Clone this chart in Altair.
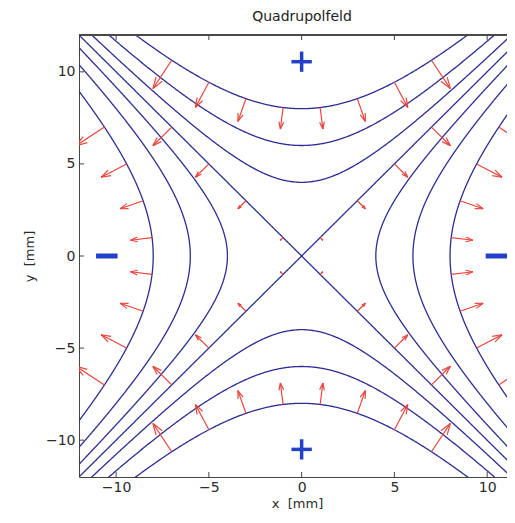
import numpy as np
import pandas as pd
import altair as alt

# ---- data ----
levels = [-64, -36, -16, 0, 16, 36, 64]          # contour levels of x^2 - y^2
arrow_levels = [64, -64, 0]                       # contours carrying field arrows
arrow_steps = [1, 3, 5, 7]                        # arrow anchor parameter along each contour
arrow_scale = 0.145                               # arrow length per unit of field (x, -y)
head_alpha = 0.33
head_beta = 0.33
plus_x = [0.0, 0.0]
plus_y = [10.55, -10.5]
minus_x = [-10.5, 10.5]
minus_y = [0.0, 0.0]
tick_values = [-10, -5, 0, 5, 10]
x_domain = [-12, 11.07]
y_domain = [-12, 12]

W, H = 428, 442
LINE_COLOR = "#2d2d92"
ARROW_COLOR = "#e8453c"
POLE_COLOR = "#2340c8"
FONT = "DejaVu Sans"

# ---- contour lines ----
t = np.arange(-12.6, 12.61, 0.05)
rows = []
for c in levels:
    for s in (-1, 1):
        key = f"{c}_{s}"
        for i, tv in enumerate(t):
            if c > 0:
                xv, yv = s * np.sqrt(c + tv * tv), tv
            elif c < 0:
                xv, yv = tv, s * np.sqrt(-c + tv * tv)
            else:
                xv, yv = s * tv, tv
            rows.append({"key": key, "o": i, "x": xv, "y": yv})
curves = pd.DataFrame(rows)

# ---- arrows ----
seg = []
for c in arrow_levels:
    for p in arrow_steps:
        for s1 in (-1, 1):
            for s2 in (-1, 1):
                if c > 0:
                    x0, y0 = s1 * np.sqrt(c + p * p), s2 * p
                elif c < 0:
                    x0, y0 = s1 * p, s2 * np.sqrt(-c + p * p)
                else:
                    x0, y0 = s1 * p, s2 * p
                u, v = arrow_scale * x0, -arrow_scale * y0
                tx, ty = x0 + u, y0 + v
                h1 = (tx - head_alpha * (u + head_beta * v), ty - head_alpha * (v - head_beta * u))
                h2 = (tx - head_alpha * (u - head_beta * v), ty - head_alpha * (v + head_beta * u))
                seg.append({"x": x0, "y": y0, "x2": tx, "y2": ty})
                seg.append({"x": h1[0], "y": h1[1], "x2": tx, "y2": ty})
                seg.append({"x": h2[0], "y": h2[1], "x2": tx, "y2": ty})
arrows = pd.DataFrame(seg)

# ---- poles ----
pole_half = 0.55
plus_rows = []
for px, py in zip(plus_x, plus_y):
    plus_rows.append({"x": px - pole_half, "x2": px + pole_half, "y": py, "y2": py})
    plus_rows.append({"x": px, "x2": px, "y": py - pole_half, "y2": py + pole_half})
plus_df = pd.DataFrame(plus_rows)
minus_df = pd.DataFrame([{"x": mx - 0.58, "x2": mx + 0.58, "y": my, "y2": my}
                         for mx, my in zip(minus_x, minus_y)])
ticks_df = pd.DataFrame({"t": tick_values})

xs = alt.Scale(domain=x_domain, nice=False, zero=False)
ys = alt.Scale(domain=y_domain, nice=False, zero=False)

axis_common = dict(grid=False, ticks=False, tickSize=0, domainColor="#444", domainWidth=1,
                   labelFont=FONT, labelFontSize=14, labelColor="#2a2a2a",
                   titleFont=FONT, titleFontSize=13, titleColor="#2a2a2a", titleFontWeight="normal",
                   values=tick_values, format="d")
x_axis = alt.Axis(title="x\u00a0 [mm]", labelPadding=3, titlePadding=3, titleX=218, **axis_common)
y_axis = alt.Axis(title="y\u00a0 [mm]", labelPadding=4, titlePadding=9, **axis_common)

lines = alt.Chart(curves).mark_line(color=LINE_COLOR, strokeWidth=1.3, clip=True).encode(
    x=alt.X("x:Q", scale=xs, axis=x_axis),
    y=alt.Y("y:Q", scale=ys, axis=y_axis),
    detail="key:N",
    order="o:Q",
)

arrow_layer = alt.Chart(arrows).mark_rule(color=ARROW_COLOR, strokeWidth=1.2, clip=True).encode(
    x=alt.X("x:Q", scale=xs, axis=x_axis), x2="x2:Q",
    y=alt.Y("y:Q", scale=ys, axis=y_axis), y2="y2:Q",
)

plus_layer = alt.Chart(plus_df).mark_rule(color=POLE_COLOR, strokeWidth=3.5).encode(
    x=alt.X("x:Q", scale=xs, axis=x_axis), x2="x2:Q",
    y=alt.Y("y:Q", scale=ys, axis=y_axis), y2="y2:Q",
)
minus_layer = alt.Chart(minus_df).mark_rule(color=POLE_COLOR, strokeWidth=5, clip=True).encode(
    x=alt.X("x:Q", scale=xs, axis=x_axis), x2="x2:Q",
    y=alt.Y("y:Q", scale=ys, axis=y_axis), y2="y2:Q",
)

top_frame = alt.Chart(ticks_df).mark_rule(color="#444", strokeWidth=1).encode(
    x=alt.value(0), x2=alt.value(W), y=alt.value(0)
)
tick_bottom = alt.Chart(ticks_df).mark_rule(color="#444", strokeWidth=1).encode(
    x=alt.X("t:Q", scale=xs, axis=x_axis), y=alt.value(H), y2=alt.value(H - 5)
)
tick_top = alt.Chart(ticks_df).mark_rule(color="#444", strokeWidth=1).encode(
    x=alt.X("t:Q", scale=xs, axis=x_axis), y=alt.value(0), y2=alt.value(5)
)
tick_left = alt.Chart(ticks_df).mark_rule(color="#444", strokeWidth=1).encode(
    y=alt.Y("t:Q", scale=ys, axis=y_axis), x=alt.value(0), x2=alt.value(5)
)

chart = alt.layer(
    lines, arrow_layer, plus_layer, minus_layer, top_frame, tick_bottom, tick_top, tick_left
).properties(
    width=W, height=H,
    title=alt.TitleParams("Quadrupolfeld", font=FONT, fontSize=14, fontWeight="normal",
                          color="#222", offset=11, dx=9),
    padding={"left": 71, "top": 27, "right": 0, "bottom": 38},
    autosize=alt.AutoSizeParams(type="none"),
).configure_view(stroke=None)

chart.save("out.html", embed_options={"renderer": "svg", "actions": False})
